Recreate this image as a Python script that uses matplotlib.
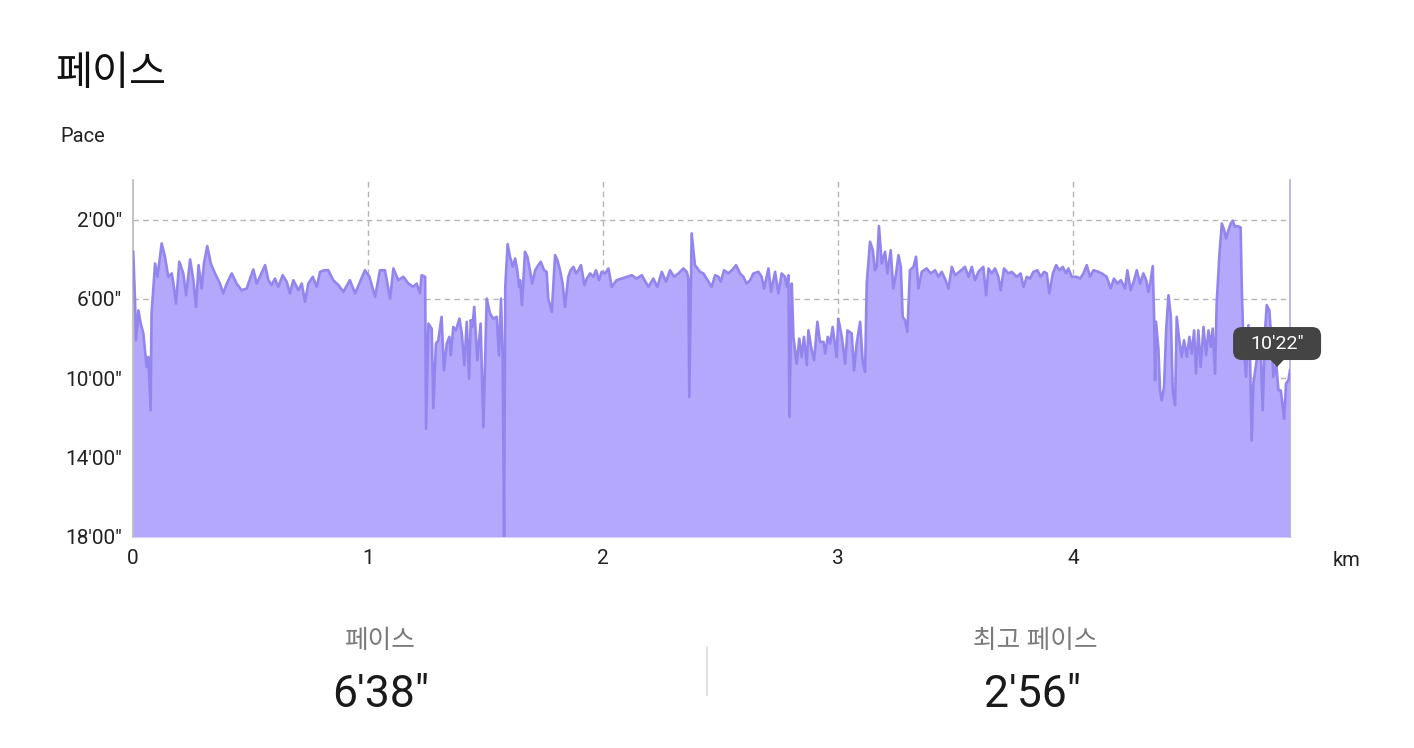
import matplotlib
matplotlib.use("Agg")
import matplotlib.pyplot as plt
import matplotlib.transforms as mtransforms
from matplotlib.patches import FancyBboxPatch, Polygon
from matplotlib.ticker import FixedLocator, FuncFormatter

plt.rcParams['font.family'] = ['Roboto', 'Noto Sans CJK KR', 'DejaVu Sans']

# ---------------- data ----------------
distance_km = [
    0.001, 0.0085, 0.013, 0.023, 0.033, 0.044, 0.058, 0.065, 0.075, 0.079,
    0.094, 0.104, 0.122, 0.136, 0.150, 0.165, 0.172, 0.183, 0.197, 0.214,
    0.226, 0.243, 0.257, 0.268, 0.279, 0.292, 0.302, 0.316, 0.331, 0.349,
    0.370, 0.384, 0.399, 0.420, 0.441, 0.462, 0.484, 0.498, 0.512, 0.526,
    0.540, 0.562, 0.576, 0.590, 0.604, 0.618, 0.637, 0.654, 0.668, 0.682,
    0.704, 0.718, 0.732, 0.746, 0.765, 0.782, 0.796, 0.813, 0.831, 0.852,
    0.874, 0.895, 0.923, 0.945, 0.966, 0.987, 1.006, 1.030, 1.051, 1.072,
    1.094, 1.108, 1.129, 1.150, 1.172, 1.193, 1.207, 1.221, 1.228, 1.243,
    1.247, 1.257, 1.271, 1.278, 1.289, 1.299, 1.313, 1.323, 1.335, 1.346,
    1.352, 1.363, 1.374, 1.389, 1.399, 1.410, 1.420, 1.430, 1.437, 1.444,
    1.452, 1.465, 1.479, 1.491, 1.505, 1.519, 1.533, 1.548, 1.557, 1.566,
    1.573, 1.579, 1.584, 1.594, 1.604, 1.616, 1.626, 1.635, 1.643, 1.647,
    1.655, 1.668, 1.678, 1.689, 1.699, 1.711, 1.725, 1.735, 1.749, 1.760,
    1.767, 1.782, 1.796, 1.806, 1.817, 1.828, 1.838, 1.852, 1.862, 1.874,
    1.885, 1.895, 1.906, 1.921, 1.931, 1.945, 1.959, 1.970, 1.983, 1.994,
    2.009, 2.023, 2.037, 2.058, 2.079, 2.101, 2.122, 2.143, 2.165, 2.193,
    2.214, 2.231, 2.250, 2.268, 2.285, 2.302, 2.321, 2.342, 2.356, 2.363,
    2.367, 2.377, 2.391, 2.413, 2.427, 2.441, 2.462, 2.477, 2.491, 2.501,
    2.515, 2.533, 2.548, 2.566, 2.583, 2.597, 2.611, 2.626, 2.640, 2.661,
    2.675, 2.685, 2.704, 2.715, 2.732, 2.746, 2.760, 2.774, 2.782, 2.789,
    2.793, 2.803, 2.810, 2.824, 2.835, 2.845, 2.855, 2.867, 2.874, 2.888,
    2.898, 2.912, 2.923, 2.938, 2.945, 2.956, 2.966, 2.977, 2.994, 3.001,
    3.016, 3.030, 3.040, 3.058, 3.068, 3.079, 3.094, 3.105, 3.115, 3.122,
    3.136, 3.148, 3.157, 3.165, 3.174, 3.186, 3.200, 3.210, 3.224, 3.235,
    3.247, 3.257, 3.267, 3.275, 3.285, 3.295, 3.306, 3.321, 3.332, 3.342,
    3.356, 3.377, 3.394, 3.413, 3.427, 3.441, 3.455, 3.470, 3.484, 3.498,
    3.516, 3.540, 3.555, 3.569, 3.583, 3.597, 3.618, 3.630, 3.640, 3.654,
    3.668, 3.682, 3.692, 3.706, 3.725, 3.739, 3.760, 3.777, 3.789, 3.803,
    3.817, 3.831, 3.848, 3.862, 3.877, 3.888, 3.899, 3.914, 3.928, 3.942,
    3.956, 3.970, 3.980, 3.994, 4.016, 4.030, 4.044, 4.058, 4.072, 4.087,
    4.108, 4.122, 4.143, 4.160, 4.174, 4.189, 4.203, 4.221, 4.231, 4.245,
    4.260, 4.271, 4.285, 4.299, 4.311, 4.321, 4.328, 4.339, 4.345, 4.349,
    4.353, 4.363, 4.370, 4.377, 4.387, 4.396, 4.406, 4.416, 4.424, 4.434,
    4.441, 4.452, 4.462, 4.472, 4.484, 4.495, 4.505, 4.515, 4.523, 4.533,
    4.543, 4.555, 4.566, 4.576, 4.586, 4.594, 4.604, 4.611, 4.623, 4.633,
    4.643, 4.651, 4.661, 4.671, 4.679, 4.689, 4.699, 4.713, 4.718, 4.725,
    4.736, 4.746, 4.753, 4.760, 4.767, 4.774, 4.789, 4.799, 4.807, 4.817,
    4.824, 4.835, 4.845, 4.852, 4.864, 4.874, 4.884, 4.892, 4.898, 4.906,
    4.916, 4.923,
]

pace_min = [
    3.62, 6.06, 8.08, 6.57, 7.24, 7.74, 9.43, 8.92, 11.6, 6.73,
    4.21, 4.88, 3.20, 3.87, 4.88, 4.71, 5.22, 6.23, 4.12, 4.71,
    5.81, 4.01, 5.05, 6.40, 4.29, 5.47, 4.21, 3.33, 4.21, 4.71,
    5.22, 5.72, 5.22, 4.71, 5.22, 5.56, 5.47, 4.97, 4.51, 5.22,
    4.88, 4.29, 5.05, 5.30, 4.97, 5.39, 4.80, 5.13, 5.72, 5.05,
    5.56, 5.22, 6.14, 5.22, 4.88, 5.39, 4.63, 4.55, 4.55, 5.05,
    5.30, 5.64, 5.05, 5.72, 5.13, 4.55, 4.88, 5.89, 4.55, 4.55,
    5.98, 4.46, 5.05, 4.88, 5.22, 5.39, 5.22, 5.72, 4.80, 4.88,
    12.54, 7.24, 7.50, 11.5, 8.25, 8.08, 6.90, 9.60, 8.25, 7.91,
    8.84, 7.41, 7.58, 6.99, 7.74, 9.34, 7.15, 10.02, 7.07, 7.41,
    6.40, 9.09, 7.24, 12.46, 5.98, 6.73, 6.99, 6.90, 8.84, 5.98,
    9.09, 18.0, 5.39, 3.23, 3.87, 4.38, 3.96, 4.55, 5.39, 5.05,
    6.31, 3.62, 3.87, 4.55, 5.22, 4.55, 4.29, 4.12, 4.55, 4.63,
    5.98, 6.65, 3.79, 4.04, 4.55, 5.22, 6.40, 4.88, 4.55, 4.38,
    4.71, 4.55, 4.29, 5.30, 4.97, 4.71, 4.88, 4.55, 5.05, 4.63,
    4.71, 4.46, 5.39, 5.05, 4.97, 4.88, 4.80, 4.97, 4.80, 5.39,
    4.97, 5.39, 4.63, 5.13, 4.55, 4.88, 4.71, 4.46, 4.63, 4.97,
    10.94, 2.69, 4.29, 4.63, 4.71, 4.97, 5.39, 4.80, 4.88, 5.13,
    4.55, 4.71, 4.55, 4.29, 4.71, 4.88, 5.22, 5.05, 4.71, 4.63,
    4.88, 5.47, 4.46, 5.64, 4.63, 5.72, 4.71, 4.88, 5.39, 4.80,
    11.95, 5.22, 7.91, 9.26, 8.00, 8.92, 7.91, 9.34, 7.58, 8.59,
    9.09, 7.15, 8.16, 8.16, 8.75, 7.91, 8.25, 7.41, 8.92, 6.99,
    7.91, 9.26, 7.58, 7.74, 9.60, 8.25, 7.15, 9.18, 9.68, 5.22,
    3.11, 3.54, 4.55, 4.38, 2.32, 4.21, 3.62, 4.71, 3.54, 5.47,
    4.71, 3.79, 4.38, 6.90, 7.07, 7.66, 4.55, 4.38, 3.87, 5.47,
    4.63, 4.46, 4.71, 4.55, 4.88, 4.63, 4.97, 5.47, 4.38, 4.80,
    4.63, 4.38, 4.88, 4.38, 5.05, 4.63, 4.38, 5.81, 4.46, 4.71,
    4.46, 4.88, 5.56, 4.46, 4.71, 4.63, 4.88, 4.71, 5.39, 4.88,
    4.97, 4.63, 4.55, 4.88, 4.63, 4.71, 5.72, 4.71, 4.29, 4.55,
    4.38, 4.71, 4.46, 4.88, 4.88, 4.97, 4.71, 4.29, 4.88, 4.55,
    4.63, 4.71, 4.88, 5.47, 4.97, 5.22, 5.05, 5.47, 4.55, 5.56,
    5.05, 4.55, 5.22, 4.71, 5.05, 5.64, 5.22, 4.34, 7.07, 10.10,
    7.15, 8.50, 10.61, 11.11, 10.44, 7.58, 5.81, 6.90, 10.61, 11.36,
    6.90, 8.08, 8.92, 8.08, 8.92, 7.91, 8.75, 7.58, 9.76, 7.58,
    9.43, 7.41, 8.84, 7.58, 8.42, 7.49, 9.76, 6.23, 3.70, 2.19,
    2.53, 2.95, 2.53, 2.19, 2.05, 2.36, 2.32, 2.39, 5.56, 8.25,
    9.93, 7.32, 8.92, 13.13, 10.27, 9.68, 8.42, 8.84, 11.6, 7.58,
    6.31, 6.57, 8.25, 9.93, 9.26, 10.61, 10.61, 11.45, 12.04, 10.27,
    10.10, 9.60,
]

x_ticks = [0, 1, 2, 3, 4]
y_ticks = [2, 6, 10, 14, 18]
x_max = 4.923
y_max = 18

tooltip_km = 4.868
tooltip_pace = 9.43
tooltip_text = "10'22\""

avg_label = "페이스"
avg_value = "6'38\""
best_label = "최고 페이스"
best_value = "2'56\""

# ---------------- figure ----------------
W, H = 1414, 748
DPI = 100
fig = plt.figure(figsize=(W / DPI, H / DPI), dpi=DPI)
fig.patch.set_facecolor('white')

def fx(px):
    return px / W

def fy(py):
    return 1 - py / H

ax = fig.add_axes([fx(133), fy(537), fx(1290) - fx(133), fy(180) - fy(537)])

fill_color = '#b3a8fb'
line_color = '#9286ee'

ax.fill_between(distance_km, pace_min, y_max, color=fill_color, linewidth=0, zorder=2)
ax.plot(distance_km, pace_min, color=line_color, linewidth=1.9, zorder=3,
        solid_joinstyle='round')

ax.set_xlim(0, x_max)
ax.set_ylim(y_max, 0)

ax.xaxis.set_major_locator(FixedLocator(x_ticks))
ax.yaxis.set_major_locator(FixedLocator(y_ticks))

def pace_fmt(v, pos):
    m = int(v)
    s = int(round((v - m) * 60))
    return f"{m}'{s:02d}\""

ax.yaxis.set_major_formatter(FuncFormatter(pace_fmt))
ax.xaxis.set_major_formatter(FuncFormatter(lambda v, p: f"{int(v)}"))

ax.tick_params(axis='both', length=0, labelsize=15, colors='#222222')
ax.tick_params(axis='y', pad=8)
ax.tick_params(axis='x', pad=9)

ax.grid(True, color='#b5b5b5', linestyle=(0, (4, 3)), linewidth=1.0)
for gl in ax.get_xgridlines() + ax.get_ygridlines():
    gl.set_zorder(2.5)
ax.get_xgridlines()[0].set_visible(False)
ax.get_ygridlines()[-1].set_visible(False)

for side in ['top', 'bottom']:
    ax.spines[side].set_visible(False)
ax.spines['left'].set_color('#b8b8b8')
ax.spines['left'].set_linewidth(1.2)
ax.spines['right'].set_color('#b4acea')
ax.spines['right'].set_linewidth(1.2)

# tooltip anchored to the data point (display pixels)
tip_x, tip_y = ax.transData.transform((tooltip_km, tooltip_pace))
ident = mtransforms.IdentityTransform()
box_w, box_h, gap = 88, 33, 7
box = FancyBboxPatch((tip_x - box_w / 2, tip_y + gap), box_w, box_h,
                     boxstyle='round,pad=0,rounding_size=9',
                     fc='#444444', ec='none', transform=ident, zorder=10)
fig.add_artist(box)
tri = Polygon([[tip_x - 7, tip_y + gap + 0.5], [tip_x + 7, tip_y + gap + 0.5], [tip_x, tip_y]],
              closed=True, fc='#444444', ec='none', transform=ident, zorder=10)
fig.add_artist(tri)
fig.text(tip_x, tip_y + gap + box_h / 2, tooltip_text, transform=ident,
         ha='center', va='center', fontsize=14, color='white', zorder=11)

# texts
fig.text(fx(55), fy(74), "페이스", fontsize=29, ha='left', va='center', color='#111111')
fig.text(fx(60), fy(136), "Pace", fontsize=14.5, ha='left', va='center', color='#222222')
fig.text(fx(1347), fy(560), "km", fontsize=14.5, ha='center', va='center', color='#222222')

fig.text(fx(380), fy(641), avg_label, fontsize=18.5, ha='center', va='center', color='#7a7a7a')
fig.text(fx(381), fy(695), avg_value, fontsize=32, ha='center', va='center', color='#1a1a1a')
fig.text(fx(1035), fy(641), best_label, fontsize=18.5, ha='center', va='center', color='#7a7a7a')
fig.text(fx(1033), fy(695), best_value, fontsize=32, ha='center', va='center', color='#1a1a1a')

fig.add_artist(plt.Line2D([fx(707), fx(707)], [fy(647), fy(695)], color='#e2e2e2',
                          linewidth=1.5, transform=fig.transFigure))

fig.savefig("out.png", dpi=DPI, facecolor='white')
